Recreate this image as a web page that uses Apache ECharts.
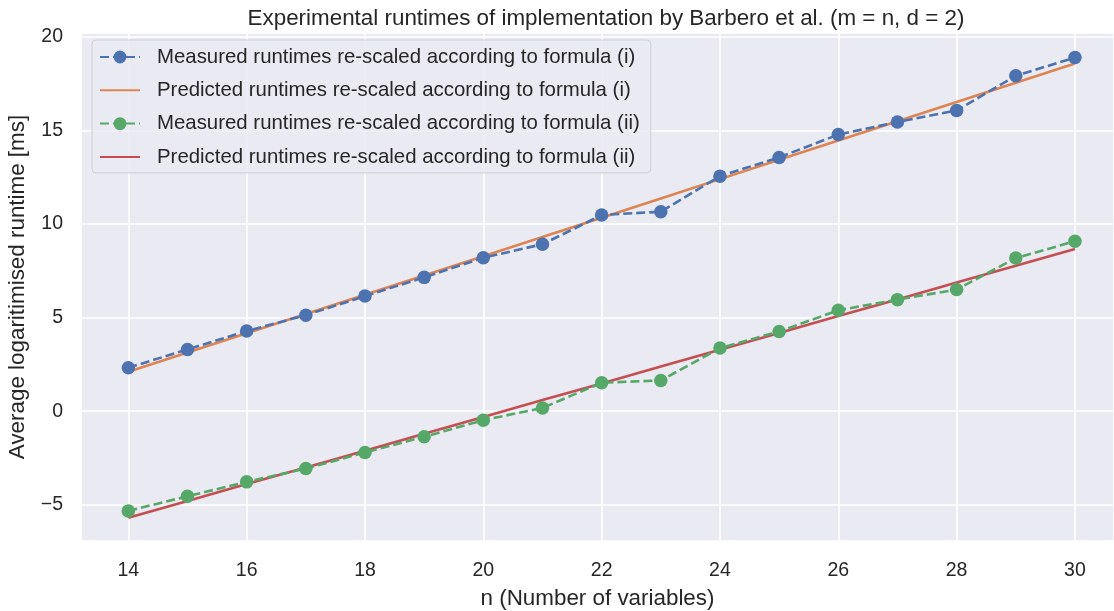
<!DOCTYPE html>
<html>
<head>
<meta charset="utf-8">
<script src="https://cdn.jsdelivr.net/npm/echarts@6/dist/echarts.min.js"></script>
<style>
html,body{margin:0;padding:0;background:#fff;}
#chart{width:1114px;height:611px;}
</style>
</head>
<body>
<div id="chart"></div>
<script>
var nValues = [14,15,16,17,18,19,20,21,22,23,24,25,26,27,28,29,30];
var measuredI = [2.32,3.30,4.28,5.13,6.15,7.15,8.20,8.92,10.48,10.66,12.56,13.56,14.78,15.45,16.07,17.92,18.90];
var predictedI = [2.10,3.13,4.16,5.19,6.22,7.25,8.28,9.31,10.34,11.37,12.40,13.43,14.46,15.49,16.52,17.55,18.58];
var measuredII = [-5.33,-4.55,-3.78,-3.07,-2.21,-1.37,-0.48,0.17,1.52,1.64,3.37,4.26,5.39,5.96,6.50,8.18,9.08];
var predictedII = [-5.70,-4.80,-3.90,-3.01,-2.11,-1.21,-0.31,0.59,1.48,2.38,3.28,4.18,5.08,5.97,6.87,7.77,8.67];
var seriesNames = [
  'Measured runtimes re-scaled according to formula (i)',
  'Predicted runtimes re-scaled according to formula (i)',
  'Measured runtimes re-scaled according to formula (ii)',
  'Predicted runtimes re-scaled according to formula (ii)'
];
var titleText = 'Experimental runtimes of implementation by Barbero et al. (m = n, d = 2)';
var xName = 'n (Number of variables)';
var yName = 'Average logaritimised runtime [ms]';

function pairs(vals){ return nValues.map(function(n,i){ return [n, vals[i]]; }); }

var FONT = '"Liberation Sans", Arial, sans-serif';
var chart = echarts.init(document.getElementById('chart'), null, {renderer:'canvas'});

function measured(name, vals, color){
  return {
    name: name, type: 'line', data: pairs(vals),
    symbol: 'circle', symbolSize: 13.5,
    lineStyle: {color: color, width: 2.6, type: [9,4]},
    itemStyle: {color: color},
    z: 3
  };
}
function predicted(name, vals, color){
  return {
    name: name, type: 'line', data: pairs(vals),
    symbol: 'none', showSymbol: false,
    lineStyle: {color: color, width: 2.6, type: 'solid'},
    itemStyle: {color: color},
    z: 2
  };
}
var hiddenMarker = {color: 'rgba(0,0,0,0)', borderWidth: 0, opacity: 0};

chart.setOption({
  animation: false,
  backgroundColor: '#ffffff',
  title: {
    text: titleText,
    left: 601, top: 3, textAlign: 'center',
    textStyle: {fontFamily: FONT, fontSize: 22.4, fontWeight: 'normal', color: '#262626'}
  },
  grid: {left: 81, top: 33, right: 0, height: 508, containLabel: false,
         outerBoundsMode: 'none',
         show: true, backgroundColor: '#EAEAF2', borderWidth: 0},
  xAxis: {
    type: 'value', min: 13.2, max: 30.66, splitNumber: 8,
    name: xName, nameLocation: 'middle', nameGap: 47,
    nameTextStyle: {fontFamily: FONT, fontSize: 22.4, color: '#262626'},
    axisLine: {show: false}, axisTick: {show: false},
    axisLabel: {fontFamily: FONT, fontSize: 19.5, color: '#262626', margin: 20,
                showMinLabel: false, showMaxLabel: false},
    splitLine: {show: true, lineStyle: {color: '#ffffff', width: 1.6}}
  },
  yAxis: {
    type: 'value', min: -6.94, max: 20.21, splitNumber: 5,
    name: yName, nameLocation: 'middle', nameGap: 52,
    nameTextStyle: {fontFamily: FONT, fontSize: 22.4, color: '#262626'},
    axisLine: {show: false}, axisTick: {show: false},
    axisLabel: {fontFamily: FONT, fontSize: 19.5, color: '#262626', margin: 18,
                showMinLabel: false, showMaxLabel: false,
                formatter: function(v){ return v < 0 ? '\u2212' + Math.abs(v) : String(v); }},
    splitLine: {show: true, lineStyle: {color: '#ffffff', width: 1.6}}
  },
  legend: {
    orient: 'vertical', left: 92, top: 40,
    data: [
      {name: seriesNames[0]},
      {name: seriesNames[1], itemStyle: hiddenMarker},
      {name: seriesNames[2]},
      {name: seriesNames[3], itemStyle: hiddenMarker}
    ],
    itemWidth: 40, itemHeight: 16, itemGap: 11.3,
    padding: [6, 11, 5, 7],
    backgroundColor: 'rgba(234,234,242,0.8)',
    borderColor: '#cfcfd6', borderWidth: 1, borderRadius: 4,
    textStyle: {fontFamily: FONT, fontSize: 20.4, color: '#262626', lineHeight: 22, padding: [0,0,0,12]}
  },
  series: [
    measured(seriesNames[0], measuredI, '#4C72B0'),
    predicted(seriesNames[1], predictedI, '#DD8452'),
    measured(seriesNames[2], measuredII, '#55A868'),
    predicted(seriesNames[3], predictedII, '#C44E52')
  ]
});
</script>
</body>
</html>
